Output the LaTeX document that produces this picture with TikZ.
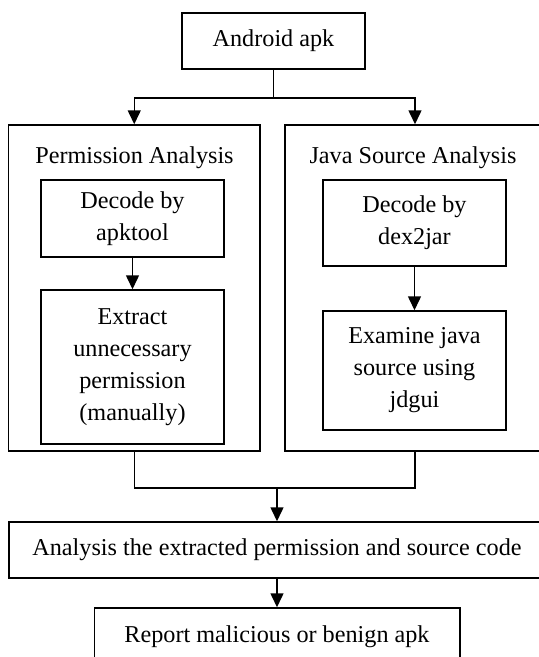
\documentclass[tikz,border=0pt]{standalone}
\usepackage{fontspec}
\setmainfont{Liberation Serif}
\usetikzlibrary{arrows.meta}

\begin{document}
\begin{tikzpicture}[->,>={Triangle[length=14pt,width=13pt]},x=1pt,y=-1pt,
                    line width=1.5pt,
                    every node/.style={font=\fontsize{24.2}{32}\selectfont},
                    block/.style={draw,rectangle,align=center,inner sep=0pt,
                                  minimum width=183pt},
                    panel/.style={draw,rectangle,inner sep=0pt,
                                  minimum height=326pt}]

  \useasboundingbox (0,0) rectangle (539,657);
  \clip (0,0) rectangle (539,657);

  \node[block,minimum height=56pt]  (apk)       at (273.5,41)    {Android apk};
  \node[panel,minimum width=251.5pt] (perm)     at (134.25,288)  {};
  \node[panel,minimum width=260pt]  (java)      at (415,288)     {};
  \node[anchor=base]                (permtitle) at (134.5,163)   {Permission Analysis};
  \node[anchor=base]                (javatitle) at (413,163)     {Java Source Analysis};
  \node[block,minimum height=77pt]  (apktool)   at (132.5,218.5) {Decode by\\apktool};
  \node[block,minimum height=154pt] (extract)   at (132.5,367)   {Extract\\unnecessary\\permission\\(manually)};
  \node[block,minimum height=86pt]  (dexjar)    at (414.5,223)   {Decode by\\dex2jar};
  \node[block,minimum height=119pt] (jdgui)     at (414.5,370.5) {Examine java\\source using\\jdgui};
  \node[block,minimum width=536pt,minimum height=56pt]   (merge)  at (277,550) {Analysis the extracted permission and source code};
  \node[block,minimum width=365.5pt,minimum height=58pt] (report) at (277,637) {Report malicious or benign apk};

  \coordinate (split) at (273.5,98);
  \coordinate (join)  at (277,488);

  \draw[-] (apk) -- (split);
  \draw (split) -| (perm);
  \draw (split) -| (java);
  \draw (apktool) -- (extract);
  \draw (dexjar) -- (jdgui);
  \draw[-] (perm) |- (join);
  \draw[-] (java) |- (join);
  \draw (join) -- (merge);
  \draw (merge) -- (report);
\end{tikzpicture}
\end{document}
